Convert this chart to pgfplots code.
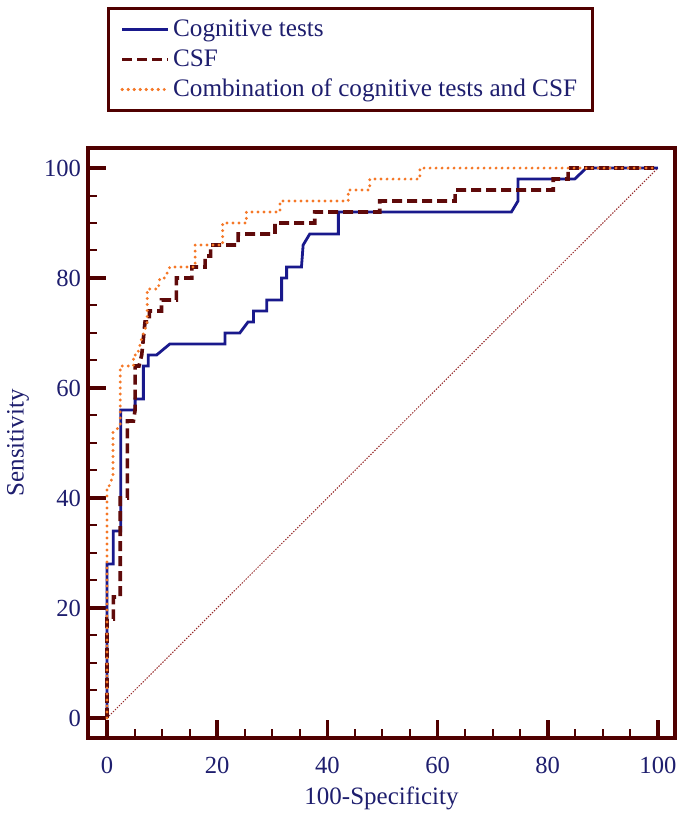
\documentclass[border=0pt]{standalone}
\usepackage{pgfplots}
\pgfplotsset{compat=1.18}
\usepackage{fontspec}
\setmainfont{Liberation Serif}
\definecolor{frame}{RGB}{80,0,0}
\definecolor{navy}{RGB}{30,30,110}
\definecolor{cogblue}{RGB}{25,25,140}
\definecolor{csfred}{RGB}{95,10,10}
\definecolor{comborange}{RGB}{245,120,40}
\definecolor{diagred}{RGB}{150,40,40}
\begin{document}
\begin{tikzpicture}
\begin{axis}[
  scale only axis,
  width=293.5pt, height=295pt,
  xmin=-3.45, xmax=103.1, ymin=-3.64, ymax=103.64,
  xtick={0,20,...,100}, ytick={0,20,...,100},
  minor tick num=3,
  tick pos=left, tick align=inside,
  major tick length=9pt, minor tick length=4.5pt,
  axis line style={draw=frame, line width=1.6pt},
  major tick style={draw=frame, line width=1.8pt},
  minor tick style={draw=frame, line width=1pt},
  /pgf/number format/assume math mode=true,
  ticklabel style={font=\fontsize{12.3}{14}\selectfont, text=navy},
  xticklabel style={yshift=-6pt},
  xlabel={100-Specificity},
  ylabel={Sensitivity},
  label style={font=\fontsize{12.5}{14}\selectfont, text=navy},
  xlabel style={at={(axis description cs:0.5,-0.1017)}, anchor=center},
  ylabel style={at={(axis description cs:-0.119,0.5)}, anchor=center},
  legend style={
    at={(axis description cs:0.0324,1.239)}, anchor=north west,
    draw=frame, line width=1.5pt,
    font=\fontsize{12.6}{14}\selectfont, text=navy,
    inner xsep=6pt, inner ysep=3pt,
    nodes={inner sep=1.5pt, text height=9.5pt, text depth=2.5pt},
    row sep=0pt,
  },
  legend cell align=left,
  legend image code/.code={\draw[#1] (0pt,0pt) -- (18.5pt,0pt); \path (0pt,0pt) -- (23pt,0pt);},
]
\addplot[forget plot, diagred, line width=0.5pt, dash pattern=on 0.7pt off 0.7pt] coordinates {(0,0) (100,100)};
\addplot[cogblue, line width=1.4pt] coordinates {
(0,0)(0,28)(1.15,28)(1.15,34)(2.5,34)(2.5,56)(5.1,56)(5.1,58)(6.6,58)(6.6,64)(7.5,64)(7.5,66)(9,66)(11.4,68)(21.4,68)(21.4,70)(24.1,70)(25.6,72)(26.6,72)(26.6,74)(29,74)(29,76)(31.7,76)(31.7,80)(32.6,80)(32.6,82)(35.3,82)(35.6,86)(36.8,88)(42,88)(42,92)(73.4,92)(74.6,94)(74.6,98)(84.9,98)(87,100)(100,100)};
\addlegendentry{Cognitive tests}
\addplot[csfred, line width=1.8pt, dash pattern=on 5pt off 2.5pt] coordinates {
(0,0)(0,18)(1.15,18)(1.15,22)(2.4,22)(2.4,40)(3.7,40)(3.7,54)(4.8,54)(5.1,56)(5.1,64)(5.8,64)(6.3,66)(6.9,72)(7.7,72)(7.7,74)(9.9,74)(9.9,76)(12.6,76)(12.6,80)(15.4,80)(15.4,82)(17.8,82)(17.8,84)(18.8,84)(18.8,86)(23.8,86)(23.8,88)(30.5,88)(30.5,90)(37.7,90)(37.7,92)(49.5,92)(49.5,94)(63.2,94)(63.2,96)(81,96)(81,98)(83.7,98)(83.7,100)(100,100)};
\addlegendentry{CSF}
\addplot[comborange, line width=1.6pt, dash pattern=on 0pt off 3pt, line cap=round] coordinates {
(0,0)(0,42)(0.3,42)(1.1,44)(1.1,52)(2.4,53)(2.4,64)(4.8,64)(4.8,66)(5.5,66)(6.3,69)(7,71)(7.3,72)(7.3,78)(9.3,78)(9.6,80)(10.5,80)(11.4,82)(16,82)(16,86)(21,86)(21,90)(25.3,90)(25.3,92)(31.4,92)(31.4,94)(43.8,94)(43.8,96)(47.7,96)(47.7,98)(56.8,98)(56.8,100)(100,100)};
\addlegendentry{Combination of cognitive tests and CSF}
\coordinate (O) at (rel axis cs:0,0);
\end{axis}
\pgfresetboundingbox
\path[use as bounding box] ([xshift=-44pt,yshift=-39.5pt]O) rectangle ([xshift=299pt,yshift=369pt]O);
\end{tikzpicture}
\end{document}
